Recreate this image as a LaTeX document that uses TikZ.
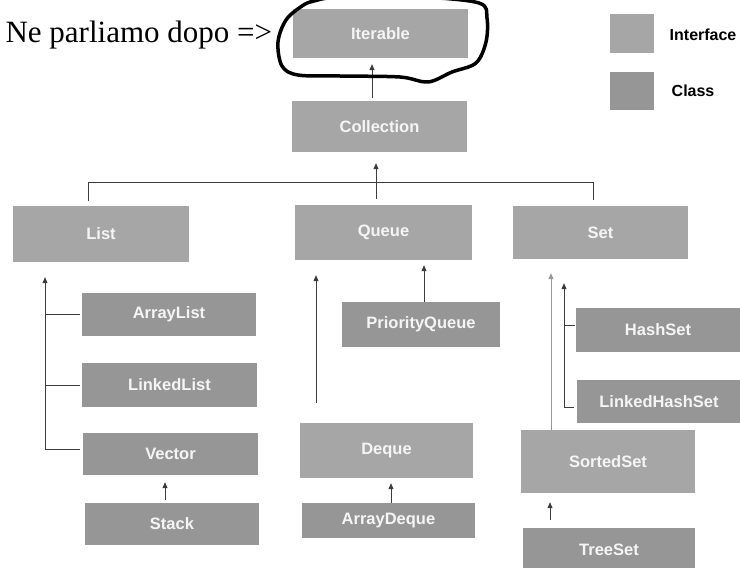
\documentclass[tikz,border=0pt]{standalone}
\usepackage{fontspec}
\setmainfont{Liberation Serif}
\setsansfont{Liberation Sans}
\usetikzlibrary{arrows.meta}
\definecolor{ifacegray}{RGB}{166,166,166}
\definecolor{clsgray}{RGB}{150,150,150}
\definecolor{linegray}{RGB}{60,60,60}
\tikzset{
  box/.style={inner sep=0pt, text=white!96!black, font=\sffamily\bfseries\fontsize{16.5}{19}\selectfont},
  iface/.style={box, fill=ifacegray},
  cls/.style={box, fill=clsgray},
  conn/.style={draw=linegray, line width=0.8pt},
  arr/.style={conn, -{Triangle[length=6pt,width=5pt]}}
}
\begin{document}
\begin{tikzpicture}[x=1pt,y=-1pt]
\useasboundingbox (0,0) rectangle (740,568);
\node[anchor=base west, font=\fontsize{31}{34}\selectfont] (note) at (2,42) {Ne parliamo dopo =>};
\node[iface, minimum width=175, minimum height=49] (iterable) at (380.5,33.5) {Iterable};
\node[iface, minimum width=175, minimum height=51] (collection) at (379.5,126.5) {Collection};
\node[iface, minimum width=176, minimum height=56] (list) at (101,234) {List};
\node[iface, minimum width=177, minimum height=55] (queue) at (383.5,232.5) {Queue};
\node[iface, minimum width=175, minimum height=53] (set) at (600.5,232.5) {Set};
\node[cls, minimum width=174, minimum height=43] (arraylist) at (169,314.5) {ArrayList};
\node[cls, minimum width=175, minimum height=44] (linkedlist) at (169.5,385) {LinkedList};
\node[cls, minimum width=175, minimum height=42] (vector) at (170.5,454) {Vector};
\node[cls, minimum width=174, minimum height=42] (stack) at (172,524) {Stack};
\node[cls, minimum width=158, minimum height=45] (priorityqueue) at (421,324.5) {PriorityQueue};
\node[iface, minimum width=173, minimum height=55] (deque) at (386.5,450.5) {Deque};
\node[cls, minimum width=173, minimum height=35] (arraydeque) at (388.5,520.5) {ArrayDeque};
\node[cls, minimum width=164, minimum height=44] (hashset) at (658,330) {HashSet};
\node[cls, minimum width=164, minimum height=43] (linkedhashset) at (659,401.5) {LinkedHashSet};
\node[iface, minimum width=174, minimum height=63] (sortedset) at (608,461.5) {SortedSet};
\node[cls, minimum width=172, minimum height=44] (treeset) at (609,550) {TreeSet};
% legend
\node[iface, minimum width=44, minimum height=39] (keyiface) at (632,33.5) {};
\node[cls, minimum width=44, minimum height=38] (keycls) at (632,91) {};
\node[anchor=west, inner sep=0pt, font=\sffamily\bfseries\fontsize{16}{18}\selectfont] (keyifacetext) at (669.5,35) {Interface};
\node[anchor=west, inner sep=0pt, font=\sffamily\bfseries\fontsize{16}{18}\selectfont] (keyclstext) at (671.5,91) {Class};
% hierarchy
\draw[arr] ([xshift=-7.5pt,yshift=3pt]collection.north) -- ([xshift=-8.5pt,yshift=-6pt]iterable.south);
\draw[conn] ([xshift=-13pt,yshift=5pt]list.north) -- ++(0,-18) -| ([xshift=-7.5pt,yshift=6pt]set.north);
\draw[arr] ([xshift=-7.5pt,yshift=6pt]queue.north) -- ([xshift=-3.5pt,yshift=-11pt]collection.south);
\coordinate (listbar) at ([xshift=-56pt,yshift=-15pt]list.south);
\draw[arr] ([xshift=-3pt,yshift=5pt]vector.west) -| (listbar);
\draw[conn] ([xshift=-2pt]arraylist.west) -- (arraylist.west -| listbar);
\draw[conn] ([xshift=-2pt]linkedlist.west) -- (linkedlist.west -| listbar);
\draw[arr] ([xshift=-7pt,yshift=3pt]stack.north) -- ([xshift=-5.5pt,yshift=-7pt]vector.south);
\draw[arr] ([xshift=-70.5pt,yshift=20pt]deque.north) -- ([xshift=-67.5pt,yshift=-15pt]queue.south);
\draw[arr] ([xshift=3pt]priorityqueue.north) -- ([xshift=40.5pt,yshift=-5pt]queue.south);
\draw[arr] ([xshift=2.5pt]arraydeque.north) -- ([xshift=4.5pt,yshift=-5pt]deque.south);
\draw[arr, draw=gray!80] ([xshift=-57pt]sortedset.north) -- ([xshift=-49.5pt,yshift=-14pt]set.south);
\coordinate (setbar) at ([xshift=-36.5pt,yshift=-24pt]set.south);
\draw[arr] ([xshift=-3pt,yshift=-5.5pt]linkedhashset.west) -| (setbar);
\draw[conn] ([xshift=-1pt,yshift=5pt]hashset.west) -- ([yshift=5pt]hashset.west -| setbar);
\draw[arr] ([xshift=-59pt,yshift=8pt]treeset.north) -- ([xshift=-58pt,yshift=-9pt]sortedset.south);
% hand drawn loop
\draw[line width=3.5pt, line join=round] plot[smooth cycle, tension=0.55] coordinates {(302,6) (286,20) (278,42) (282,66) (298,75) (340,76) (400,77) (428,82) (452,72) (476,63) (486,42) (487,18) (479,3) (420,-3) (340,-3) (314,1)};
\end{tikzpicture}
\end{document}
